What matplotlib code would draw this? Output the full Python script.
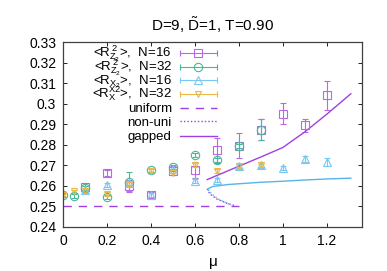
import numpy as np
import matplotlib
matplotlib.use("Agg")
import matplotlib.pyplot as plt
from matplotlib.ticker import FormatStrFormatter

plt.rcParams['font.family'] = ['Liberation Sans', 'DejaVu Sans']
plt.rcParams['mathtext.fontset'] = 'custom'
plt.rcParams['mathtext.rm'] = 'Liberation Sans'
plt.rcParams['mathtext.it'] = 'Liberation Sans'

# <R_Z2^2>, N=16
mu_z16 = [0.1, 0.2, 0.3, 0.4, 0.5, 0.6, 0.7, 0.8, 0.9, 1.0, 1.1, 1.2]
rz16 = [0.2593, 0.2663, 0.2600, 0.2556, 0.2674, 0.2678, 0.2772, 0.2795, 0.2873, 0.2951, 0.2894, 0.3040]
rz16_err = [0.002, 0.0015, 0.003, 0.0015, 0.002, 0.004, 0.006, 0.006, 0.005, 0.005, 0.003, 0.007]

# <R_Z2^2>, N=32
mu_z32 = [0.0, 0.05, 0.1, 0.2, 0.3, 0.4, 0.5, 0.6, 0.7, 0.8, 0.9]
rz32 = [0.2557, 0.2552, 0.2590, 0.2544, 0.2620, 0.2678, 0.2690, 0.2751, 0.2726, 0.2795, 0.2873]
rz32_err = [0.001, 0.001, 0.001, 0.001, 0.0045, 0.001, 0.001, 0.001, 0.001, 0.001, 0.005]

# <R_X^2>, N=16
mu_x16 = [0.1, 0.2, 0.3, 0.4, 0.5, 0.6, 0.7, 0.8, 0.9, 1.0, 1.1, 1.2]
rx16 = [0.2580, 0.2604, 0.2614, 0.2557, 0.2682, 0.2625, 0.2629, 0.2694, 0.2700, 0.2687, 0.2731, 0.2715]
rx16_err = [0.001, 0.001, 0.001, 0.001, 0.001, 0.001, 0.001, 0.001, 0.0015, 0.001, 0.0015, 0.002]

# <R_X^2>, N=32
mu_x32 = [0.0, 0.05, 0.1, 0.2, 0.3, 0.4, 0.5, 0.6, 0.7, 0.8, 0.9]
rx32 = [0.2555, 0.2573, 0.2575, 0.2560, 0.2606, 0.2674, 0.2663, 0.2702, 0.2671, 0.2694, 0.2699]
rx32_err = [0.0005, 0.0008, 0.0008, 0.0008, 0.001, 0.001, 0.001, 0.001, 0.001, 0.0008, 0.0008]

# analytic curves
mu_uni = [0.0, 0.8]
r_uni = [0.25, 0.25]

mu_nonuni_a = [0.656, 0.668, 0.699, 0.745, 0.783]
r_nonuni_a = [0.2585, 0.2560, 0.2536, 0.2515, 0.2503]
mu_nonuni_b = [0.660, 0.676, 0.706, 0.752, 0.765]
r_nonuni_b = [0.2581, 0.2560, 0.2536, 0.2512, 0.2505]

mu_gap_a = [0.656, 0.70, 0.80, 0.90, 1.00, 1.10, 1.20, 1.31]
r_gap_a = [0.2630, 0.2650, 0.2695, 0.2740, 0.2786, 0.2862, 0.2948, 0.3048]
mu_gap_b = [0.660, 0.68, 0.75, 0.90, 1.00, 1.10, 1.20, 1.31]
r_gap_b = [0.2585, 0.2596, 0.2606, 0.2617, 0.2622, 0.2628, 0.2633, 0.2637]

labels = [
    r'<R$_{\mathrm{Z}_2}^{\;2}$>,  N=16',
    r'<R$_{\mathrm{Z}_2}^{\;2}$>,  N=32',
    r'<R$_{\mathrm{X}_2}$>,  N=16',
    r'<R$_{\mathrm{X}}^{\mathrm{X}2}$>,  N=32',
    'uniform',
    'non-uni',
    'gapped',
]

purple = '#b868e8'
green = '#48b898'
blue = '#78c8f0'
orange = '#ecb848'
line_purple = '#a040e0'
line_blue = '#56b4e9'
dotted = (0, (1, 1.5))

fig = plt.figure(figsize=(3.87, 2.71), dpi=100)
ax = fig.add_axes([0.163, 0.163, 0.772, 0.682])

ekw = dict(linestyle='none', elinewidth=0.8, capsize=2, capthick=0.8,
           markerfacecolor='none', markeredgewidth=0.8)
series = [
    (mu_z16, rz16, rz16_err, 's', 6, purple),
    (mu_z32, rz32, rz32_err, 'o', 6, green),
    (mu_x16, rx16, rx16_err, '^', 6, blue),
    (mu_x32, rx32, rx32_err, 'v', 5, orange),
]
for x, y, e, m, ms, c in series:
    ax.errorbar(x, y, yerr=e, marker=m, ms=ms, color=c, **ekw)

ax.plot(mu_uni, r_uni, color=line_purple, lw=1, dashes=(6, 5))
ax.plot(mu_nonuni_a, r_nonuni_a, color=line_purple, lw=1, linestyle=dotted)
ax.plot(mu_nonuni_b, r_nonuni_b, color=line_blue, lw=1, linestyle=dotted)
ax.plot(mu_gap_a, r_gap_a, color=line_purple, lw=1)
ax.plot(mu_gap_b, r_gap_b, color=line_blue, lw=1)

ax.set_xlim(0, 1.36)
ax.set_ylim(0.24, 0.33)
ax.set_xticks([0, 0.2, 0.4, 0.6, 0.8, 1.0, 1.2])
ax.set_yticks(np.arange(0.24, 0.3301, 0.01))
ax.xaxis.set_major_formatter(FormatStrFormatter('%g'))
ax.yaxis.set_major_formatter(FormatStrFormatter('%g'))
ax.tick_params(direction='in', top=True, right=True, labelsize=10, length=3, width=0.6, pad=5)
for s in ax.spines.values():
    s.set_linewidth(0.9)
    s.set_color('#404040')

ax.set_xlabel(r'$\mathrm{\mu}$', fontsize=11, labelpad=6)
ax.set_title(r'D=9, $\tilde{\mathrm{D}}$=1, T=0.90', fontsize=11, pad=8)

# gnuplot-style key: right-aligned text, sample to its right
tr = ax.transAxes
row_y = [0.94, 0.866, 0.795, 0.72, 0.645, 0.57, 0.493]
x_txt, x0, x1, xm = 0.364, 0.391, 0.515, 0.4515
for i, (lab, yy) in enumerate(zip(labels, row_y)):
    ax.text(x_txt, yy - 0.022, lab, transform=tr, ha='right', va='baseline', fontsize=9.5)
    if i < 4:
        x, y, e, m, ms, c = series[i]
        ax.plot([x0, x1], [yy, yy], transform=tr, color=c, lw=0.8, clip_on=False)
        ax.plot([x0, x1], [yy, yy], transform=tr, color=c, lw=0, marker='|', ms=4, mew=0.8, clip_on=False)
        ax.plot([xm], [yy], transform=tr, color=c, marker=m, ms=ms, mfc='none', mew=0.8, clip_on=False)
    elif i == 4:
        ax.plot([x0, x1], [yy, yy], transform=tr, color=line_purple, lw=1, dashes=(6, 5))
    elif i == 5:
        ax.plot([x0, x1], [yy, yy], transform=tr, color=line_purple, lw=1, linestyle=dotted)
    else:
        ax.plot([x0, x1], [yy, yy], transform=tr, color=line_purple, lw=1)

fig.savefig('out.png', dpi=100)
